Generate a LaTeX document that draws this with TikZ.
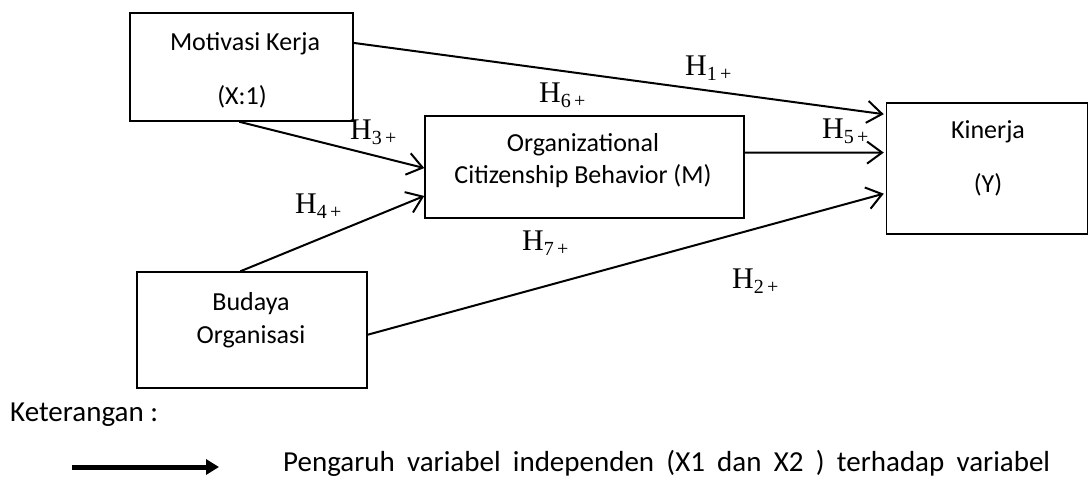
\documentclass[tikz,border=0pt]{standalone}
\usepackage{fontspec}
\setmainfont{Carlito}
\newfontfamily\hfont{Liberation Serif}
\usetikzlibrary{arrows.meta,calc}
\newcommand{\hyp}[1]{{\hfont\fontsize{30}{30}\selectfont H\raisebox{-5pt}{\fontsize{20}{20}\selectfont #1\,+}}}
\tikzset{
  box/.style={draw, line width=1.5pt, inner sep=0pt},
  txt/.style={inner sep=0pt, anchor=base, font=\fontsize{26}{30}\selectfont},
  legtxt/.style={inner sep=0pt, anchor=base west, font=\fontsize{29}{32}\selectfont},
  hlab/.style={inner sep=0pt, anchor=base west},
  conn/.style={line width=2pt, -{Straight Barb[length=15pt,width=22pt,line width=2pt]}},
}
\begin{document}
\begin{tikzpicture}[x=1pt,y=-1pt]
\useasboundingbox (0,0) rectangle (1089,480);
% boxes
\node[box, minimum width=223pt, minimum height=108pt] (mot) at (241.5,67) {};
\node[box, minimum width=319pt, minimum height=102pt] (ocb) at (584.5,167) {};
\node[box, minimum width=230pt, minimum height=116pt] (bud) at (252,330) {};
\node[box, minimum width=201pt, minimum height=131pt] (kin) at (987,168.5) {};
% box texts
\node[txt] (mot1) at (245,50) {Motivasi Kerja};
\node[txt] (mot2) at (242,104) {(X:1)};
\node[txt] (ocb1) at (583,151) {Organizational};
\node[txt] (ocb2) at (583,183) {Citizenship Behavior (M)};
\node[txt] (bud1) at (251,310) {Budaya};
\node[txt] (bud2) at (251,343) {Organisasi};
\node[txt] (kin1) at (988,138) {Kinerja};
\node[txt] (kin2) at (988,192) {(Y)};
% connector end points
\coordinate (m1) at ($(mot.north east)!0.28!(mot.south east)$);
\coordinate (k1) at ($(kin.north west)!0.09!(kin.south west)+(-2,0)$);
\coordinate (m3) at ($(mot.south west)!0.49!(mot.south east)$);
\coordinate (o3) at ($(ocb.north west)!0.51!(ocb.south west)$);
\coordinate (b4) at ($(bud.north west)!0.45!(bud.north east)$);
\coordinate (o4) at ($(ocb.north west)!0.78!(ocb.south west)$);
\coordinate (o5) at ($(ocb.north east)!0.36!(ocb.south east)$);
\coordinate (k5) at ($(kin.north west)!0.38!(kin.south west)+(-2,0)$);
\coordinate (b2) at ($(bud.north east)!0.54!(bud.south east)$);
\coordinate (k2) at ($(kin.north west)!0.69!(kin.south west)+(-2,0)$);
% connectors
\draw[conn] (m1) -- (k1);
\draw[conn] (m3) -- (o3);
\draw[conn] (b4) -- (o4);
\draw[conn] (o5) -- (k5);
\draw[conn] (b2) -- (k2);
% labels
\node[hlab] (h1) at (685,75) {\hyp{1}};
\node[hlab] (h6) at (539,102) {\hyp{6}};
\node[hlab] (h3) at (350,139) {\hyp{3}};
\node[hlab] (h5) at (822,138) {\hyp{5}};
\node[hlab] (h4) at (295,213) {\hyp{4}};
\node[hlab] (h7) at (522,250) {\hyp{7}};
\node[hlab] (h2) at (732,288) {\hyp{2}};
% legend
\node[legtxt] (ket) at (10,421) {Keterangan :};
\coordinate (la) at (72,467);
\coordinate (lb) at (219,467);
\draw[line width=5pt, -{Triangle[length=13pt,width=15pt]}] (la) -- (lb);
\node[legtxt] (leg) at (283,471) {\makebox[767pt][s]{Pengaruh variabel independen (X1 dan X2 ) terhadap variabel}};
\end{tikzpicture}
\end{document}
